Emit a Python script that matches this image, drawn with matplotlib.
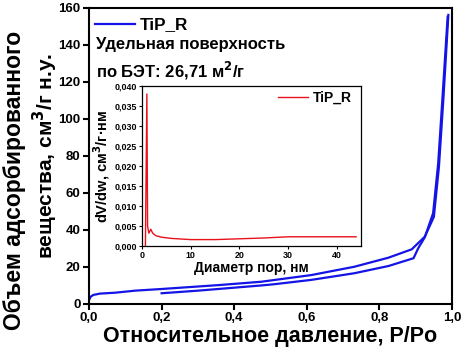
import matplotlib
matplotlib.use("Agg")
import matplotlib.pyplot as plt

plt.rcParams['font.family'] = ['Liberation Sans', 'DejaVu Sans']
plt.rcParams['font.weight'] = 'bold'
plt.rcParams['mathtext.default'] = 'bf'

# isotherm, branch starting at P/Po = 0
p_upper = [0.0, 0.005, 0.012, 0.03, 0.072, 0.127, 0.2, 0.357, 0.474, 0.612,
           0.731, 0.825, 0.889, 0.925, 0.95, 0.964, 0.976, 0.99]
v_upper = [2.2, 4.0, 4.9, 5.6, 6.1, 7.2, 8.1, 10.2, 12.0, 15.6,
           20.1, 25.0, 29.5, 36.3, 47, 74, 110, 156]

# branch starting at P/Po = 0.2
p_lower = [0.2, 0.3, 0.474, 0.507, 0.612, 0.731, 0.825, 0.894, 0.907,
           0.925, 0.948, 0.962, 0.974, 0.988]
v_lower = [5.8, 7.2, 10.0, 10.6, 13.0, 16.6, 20.5, 24.7, 30.1,
           36.0, 49, 76, 112, 155]

# pore size distribution (inset)
d_pore = [0.7, 1.0, 1.15, 1.4, 1.8, 2.2, 2.8, 4, 6, 10, 15, 20, 25, 30, 35, 40, 44]
dv_dw = [0.0, 0.038, 0.005, 0.0032, 0.0042, 0.0032, 0.0026, 0.0022, 0.0019,
         0.0016, 0.0016, 0.0018, 0.002, 0.0023, 0.0023, 0.0023, 0.0023]

main_xticks = [0.0, 0.2, 0.4, 0.6, 0.8, 1.0]
main_yticks = [0, 20, 40, 60, 80, 100, 120, 140, 160]
inset_xticks = [0, 10, 20, 30, 40]
inset_yticks = [0.0, 0.005, 0.010, 0.015, 0.020, 0.025, 0.030, 0.035, 0.040]

W, H = 464, 352
fig = plt.figure(figsize=(W / 100, H / 100), dpi=100)
ax = fig.add_axes([89 / W, 1 - 304 / H, 363 / W, 296.5 / H])

blue = '#1414e6'
ax.plot(p_upper, v_upper, color=blue, lw=1.6, label='TiP_R')
ax.plot(p_lower, v_lower, color=blue, lw=1.6)

ax.set_xlim(0, 1.0)
ax.set_ylim(0, 160)
ax.set_xticks(main_xticks)
ax.set_xticklabels([f"{t:.1f}".replace('.', ',') for t in main_xticks])
ax.set_yticks(main_yticks)
ax.tick_params(direction='out', length=4, width=1.5, labelsize=9.5, pad=2,
               top=False, right=False)
for s in ax.spines.values():
    s.set_linewidth(1.5)

ax.set_xlabel('Относительное давление, P/Po', fontsize=15.5, fontweight='bold', labelpad=1)

# y label: two lines with different centres, as in the reference
fig.text(15 / W, 1 - 180 / H, 'Объем адсорбированного', rotation=90,
         ha='center', va='center', fontsize=16.5, fontweight='bold')
fig.text(45 / W, 1 - 156 / H, 'вещества, см$^3$/г н.у.', rotation=90,
         ha='center', va='center', fontsize=15, fontweight='bold')

ax.legend(loc='center left', frameon=False, fontsize=12.3, handlelength=2.35,
          borderaxespad=0, borderpad=0.35, handletextpad=0.3,
          bbox_to_anchor=(0.0, (304 - 25) / 296.5))
ax.text(7 / 363, (304 - 45) / 296.5, 'Удельная поверхность',
        transform=ax.transAxes, fontsize=12, fontweight='bold', va='center')
ax.text(7 / 363, (304 - 71) / 296.5, 'по БЭТ: 26,71 м$^2$/г',
        transform=ax.transAxes, fontsize=12, fontweight='bold', va='center')

ins = fig.add_axes([142 / W, 1 - 246 / H, 219 / W, 160 / H])
ins.plot(d_pore, dv_dw, color='#e8121c', lw=1.0, label='TiP_R')
ins.set_xlim(0, 45)
ins.set_ylim(0, 0.040)
ins.set_xticks(inset_xticks)
ins.set_yticks(inset_yticks)
ins.set_yticklabels([f"{t:.3f}".replace('.', ',') for t in inset_yticks])
ins.tick_params(direction='out', length=2, width=0.8, labelsize=6.4, pad=1.5,
                top=False, right=False)
for s in ins.spines.values():
    s.set_linewidth(0.9)
ins.set_xlabel('Диаметр пор, нм', fontsize=10, fontweight='bold', labelpad=1)
ins.set_ylabel('dV/dw, см$^3$/г·нм', fontsize=10.5, fontweight='bold', labelpad=2)
ins.legend(loc='center right', frameon=False, fontsize=10, handlelength=2.2,
           handletextpad=0.35, borderaxespad=0, borderpad=0.65,
           bbox_to_anchor=(1.0, (246 - 98) / 160))

fig.savefig('out.png', dpi=100)
